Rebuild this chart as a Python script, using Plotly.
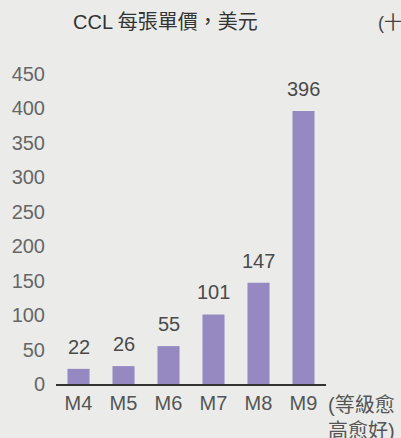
import plotly.graph_objects as go

categories = ["M4", "M5", "M6", "M7", "M8", "M9"]
values = [22, 26, 55, 101, 147, 396]
y_ticks = [0, 50, 100, 150, 200, 250, 300, 350, 400, 450]

FONT = "Liberation Sans, Arial, Noto Sans CJK TC, sans-serif"
BG = "#EBECEA"

W, H = 401, 438
L, R, T, B = 54, 75, 67, 54
pw, ph = W - L - R, H - T - B

def px_x(x):
    return (x - L) / pw

def px_y(y):
    return (H - B - y) / ph

fig = go.Figure(go.Bar(
    x=categories, y=values,
    marker=dict(color="#9689C2", line=dict(width=0)),
    hoverinfo="skip",
))

value_labels = [
    dict(text=str(v), x=c, y=v, xref="x", yref="y", yanchor="middle",
         yshift=22, showarrow=False,
         font=dict(size=20, color="#4a4a4a", family=FONT))
    for c, v in zip(categories, values)
]

fig.update_layout(
    width=W, height=H,
    margin=dict(l=L, r=R, t=T, b=B, pad=0),
    paper_bgcolor=BG, plot_bgcolor=BG,
    bargap=0.51,
    showlegend=False,
    font=dict(family=FONT, color="#555555"),
    xaxis=dict(showgrid=False, showline=True, linecolor="#333333", linewidth=1.5,
               ticks="", tickfont=dict(size=20, color="#555555"), fixedrange=True),
    yaxis=dict(range=[0, 460], tickvals=y_ticks, showgrid=False, zeroline=False,
               showline=False, ticks="", ticklabelstandoff=10,
               tickfont=dict(size=20, color="#666666"), fixedrange=True),
    annotations=value_labels + [
        dict(text="CCL 每張單價，美元", xref="paper", yref="paper",
             x=px_x(69), y=px_y(22), xanchor="left", yanchor="middle",
             showarrow=False, font=dict(size=20, color="#333333", family=FONT)),
        dict(text="(十", xref="paper", yref="paper",
             x=px_x(376), y=px_y(23), xanchor="left", yanchor="middle",
             showarrow=False, font=dict(size=18, color="#444444", family=FONT)),
        dict(text="(等級愈<br>高愈好)", xref="paper", yref="paper",
             x=px_x(326), y=px_y(392), xanchor="left", yanchor="top",
             align="left", showarrow=False,
             font=dict(size=20, color="#555555", family=FONT)),
    ],
)

fig.write_html("out.html", config={"displayModeBar": False},
               post_script="document.body.style.margin='0';document.body.style.overflow='hidden';")
